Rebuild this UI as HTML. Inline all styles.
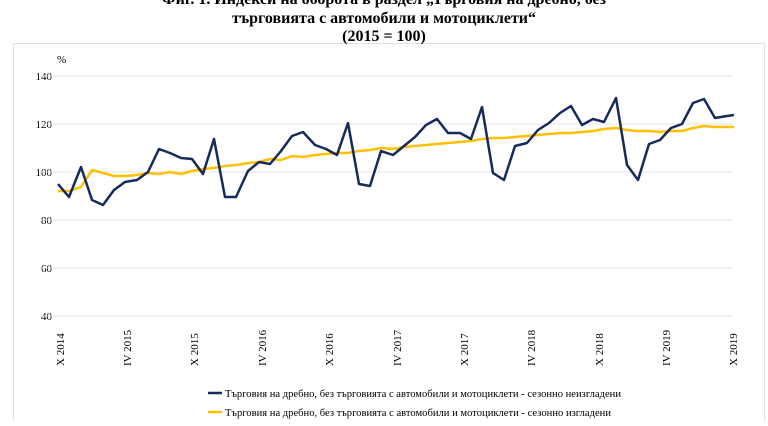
<!DOCTYPE html>
<html><head><meta charset="utf-8"><style>
body{margin:0;background:#fff;width:768px;height:421px;overflow:hidden;font-family:"Liberation Serif",serif}
</style></head><body>
<svg width="768" height="421" xmlns="http://www.w3.org/2000/svg" font-family="Liberation Serif, serif">
<rect x="13.5" y="43.5" width="751" height="390" fill="#fff" stroke="#e0e0e0"/>
<g font-weight="bold" font-size="16" text-anchor="middle" fill="#000">
<text x="384" y="4">Фиг. 1. Индекси на оборота в раздел „Търговия на дребно, без</text>
<text x="384" y="23">търговията с автомобили и мотоциклети“</text>
<text x="384" y="41">(2015 = 100)</text>
</g>
<g font-size="11" fill="#000">
<text x="57" y="63">%</text>
<g text-anchor="end">
<text x="52" y="80">140</text><text x="52" y="128">120</text><text x="52" y="176">100</text>
<text x="52" y="224">80</text><text x="52" y="272">60</text><text x="52" y="320">40</text>
</g></g>
<g stroke="#e3e3e3" stroke-width="1">
<line x1="40" y1="76" x2="733" y2="76"/><line x1="40" y1="124" x2="733" y2="124"/>
<line x1="40" y1="172" x2="733" y2="172"/><line x1="40" y1="220" x2="733" y2="220"/>
<line x1="40" y1="268" x2="733" y2="268"/><line x1="40" y1="316" x2="733" y2="316"/>
</g>
<g font-size="11" fill="#000">
<text transform="translate(64,366) rotate(-90)">X 2014</text>
<text transform="translate(131,366) rotate(-90)">IV 2015</text>
<text transform="translate(198,366) rotate(-90)">X 2015</text>
<text transform="translate(266,366) rotate(-90)">IV 2016</text>
<text transform="translate(333,366) rotate(-90)">X 2016</text>
<text transform="translate(401,366) rotate(-90)">IV 2017</text>
<text transform="translate(468,366) rotate(-90)">X 2017</text>
<text transform="translate(535,366) rotate(-90)">IV 2018</text>
<text transform="translate(603,366) rotate(-90)">X 2018</text>
<text transform="translate(670,366) rotate(-90)">IV 2019</text>
<text transform="translate(737,366) rotate(-90)">X 2019</text>
</g>
<polyline fill="none" stroke="#ffc000" stroke-width="2.5" stroke-linejoin="round" points="58,191 69,191 81,187 92,170 103,173 114,176 125,176 137,175 148,173 159,174 170,172 181,174 192,171 203,169 214,168 225,166 236,165 248,163 259,162 270,159 281,160 292,156 303,157 315,155 326,154 337,153 348,153 359,151 370,150 381,148 393,149 404,147 415,146 426,145 437,144 448,143 460,142 471,141 482,139 493,138 504,138 515,137 527,136 538,135 549,134 560,133 571,133 582,132 593,131 604,129 616,128 627,130 638,131 649,131 660,132 671,131 682,131 693,128 704,126 715,127 727,127 734,127"/>
<polyline fill="none" stroke="#172a5c" stroke-width="2.5" stroke-linejoin="round" points="58,184 69,197 81,167 92,200 103,205 114,190 125,182 137,180 148,172 159,149 170,153 181,158 192,159 203,174 214,139 225,197 236,197 248,171 259,162 270,164 281,151 292,136 303,132 315,145 326,149 337,155 348,123 359,184 370,186 381,151 393,155 404,146 415,137 426,125 437,119 448,133 460,133 471,139 482,107 493,173 504,180 515,146 527,143 538,130 549,123 560,113 571,106 582,125 593,119 604,122 616,98 627,165 638,180 649,144 660,140 671,128 682,124 693,103 704,99 715,118 727,116 734,115"/>
<line x1="208" y1="393" x2="222" y2="393" stroke="#172a5c" stroke-width="2.5"/>
<line x1="208" y1="412" x2="222" y2="412" stroke="#ffc000" stroke-width="2.5"/>
<g font-size="10" fill="#000">
<text x="225" y="397" textLength="396" lengthAdjust="spacingAndGlyphs">Търговия на дребно, без търговията с автомобили и мотоциклети - сезонно неизгладени</text>
<text x="225" y="416" textLength="386" lengthAdjust="spacingAndGlyphs">Търговия на дребно, без търговията с автомобили и мотоциклети - сезонно изгладени</text>
</g>
</svg>
</body></html>
